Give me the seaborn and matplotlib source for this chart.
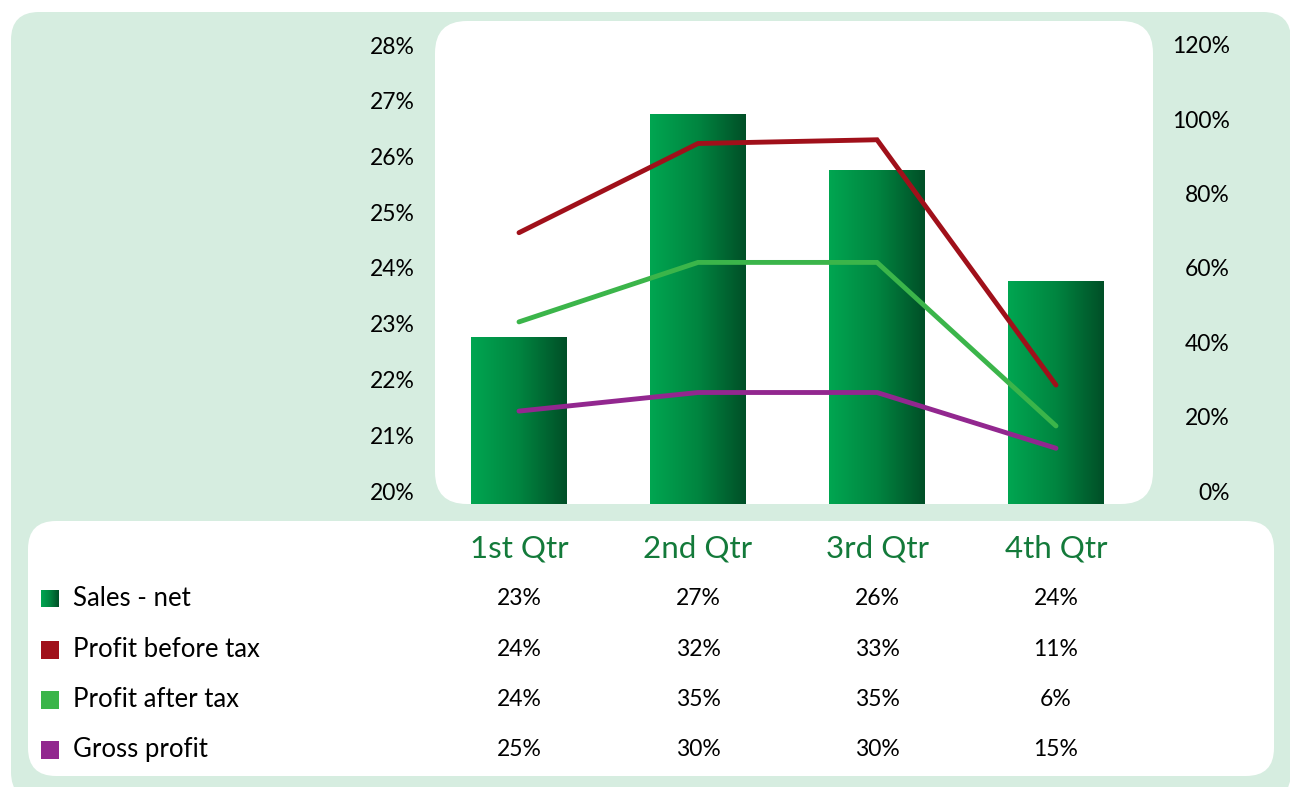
import numpy as np
import pandas as pd
import seaborn as sns
import matplotlib
matplotlib.use("Agg")
import matplotlib.pyplot as plt
from matplotlib.patches import FancyBboxPatch, Rectangle
from matplotlib.transforms import ScaledTranslation, IdentityTransform, blended_transform_factory
from matplotlib.colors import LinearSegmentedColormap

# ---- data -------------------------------------------------------------
quarters = ["1st Qtr", "2nd Qtr", "3rd Qtr", "4th Qtr"]
sales_net = [23, 27, 26, 24]
profit_before_tax = [24, 32, 33, 11]
profit_after_tax = [24, 35, 35, 6]
gross_profit = [25, 30, 30, 15]

series_names = ["Sales - net", "Profit before tax", "Profit after tax", "Gross profit"]
left_ticks = [20, 21, 22, 23, 24, 25, 26, 27, 28]
right_ticks = [0, 20, 40, 60, 80, 100, 120]

# ---- style ------------------------------------------------------------
W, H = 1290, 787
PANEL_GREEN = "#d6ede0"
BAR_LIGHT, BAR_DARK = "#00a651", "#004f27"
RED, GREEN, PURPLE = "#a0101a", "#3bb54a", "#92278f"
HEADER_GREEN = "#137a3a"

sns.set_theme(style="white")
plt.rcParams["font.family"] = ["Lato", "DejaVu Sans"]

fig = plt.figure(figsize=(W / 100, H / 100), dpi=100)
fig.patch.set_facecolor("white")


def box(x0, y0, x1, y1, r, color, z):
    """Rounded box given in pixels measured from the top-left corner."""
    p = FancyBboxPatch((x0, H - y1), x1 - x0, y1 - y0,
                       boxstyle=f"round,pad=0,rounding_size={r}",
                       transform=IdentityTransform(), facecolor=color,
                       edgecolor="none", zorder=z)
    fig.add_artist(p)


def fig_rect(x0, y0, x1, y1):
    return [x0 / W, 1 - y1 / H, (x1 - x0) / W, (y1 - y0) / H]


# background panels
box(11, 12, 1291, 800, 28, PANEL_GREEN, -3)
box(435, 21, 1153, 504, 32, "white", -2)
box(28, 521, 1274, 776, 28, "white", -2)

# ---- main chart -------------------------------------------------------
ax = fig.add_axes(fig_rect(429.5, 58, 1145.5, 504))
ax.patch.set_visible(False)

df = pd.DataFrame({"quarter": quarters, "sales": sales_net})
sns.barplot(data=df, x="quarter", y="sales", ax=ax, width=0.536,
            color=BAR_LIGHT, saturation=1)

grad = LinearSegmentedColormap.from_list("bar", [BAR_LIGHT, "#008540", BAR_DARK])
ramp = np.linspace(0, 1, 256).reshape(1, -1)
for bar in ax.patches:
    x, w, h = bar.get_x(), bar.get_width(), bar.get_height()
    img = ax.imshow(ramp, cmap=grad, extent=[x, x + w, left_ticks[0], h],
                    aspect="auto", interpolation="bicubic", zorder=2)
    img.set_clip_path(bar)
    bar.set_facecolor("none")
    bar.set_edgecolor("none")

ax.set_xlim(-0.5, 3.5)
ax.set_ylim(left_ticks[0], left_ticks[-1])
ax.set_yticks(left_ticks)
ax.set_yticklabels([f"{v}%" for v in left_ticks])
ax.set_xticks([])
ax.set_xlabel("")
ax.set_ylabel("")
for s in ax.spines.values():
    s.set_visible(False)
ax.tick_params(axis="y", length=0, pad=10.4, labelsize=16.5, labelcolor="black")

# stacked profit lines on the secondary axis
ax2 = ax.twinx()
ax2.patch.set_visible(False)
pos = np.arange(len(quarters))
level1 = np.array(gross_profit)
level2 = level1 + np.array(profit_after_tax)
level3 = level2 + np.array(profit_before_tax)
for vals, col in [(level1, PURPLE), (level2, GREEN), (level3, RED)]:
    sns.lineplot(x=pos, y=vals, ax=ax2, color=col, linewidth=3.5,
                 solid_capstyle="round", solid_joinstyle="miter", sort=False)
ax2.set_ylim(right_ticks[0], right_ticks[-1])
ax2.set_yticks(right_ticks)
ax2.set_yticklabels([f"{v}%" for v in right_ticks])
ax2.set_ylabel("")
for s in ax2.spines.values():
    s.set_visible(False)
ax2.tick_params(axis="y", length=0, pad=60.8, labelsize=16.5, labelcolor="black")

lift = ScaledTranslation(0, 13 / 100, fig.dpi_scale_trans)
for t in ax.yaxis.get_major_ticks():
    t.label1.set_transform(t.label1.get_transform() + lift)
for t in ax2.yaxis.get_major_ticks():
    t.label2.set_transform(t.label2.get_transform() + lift)
    t.label2.set_horizontalalignment("right")

# ---- data table -------------------------------------------------------
col_tf = blended_transform_factory(ax.transData, fig.transFigure)
header_y = 548
row_y = [598.5, 649.5, 699.5, 749.5]
rows = [sales_net, profit_before_tax, profit_after_tax, gross_profit]
row_colors = [None, RED, GREEN, PURPLE]

for i, q in enumerate(quarters):
    fig.text(pos[i], 1 - header_y / H, q, transform=col_tf, ha="center",
             va="center", fontsize=22.5, color=HEADER_GREEN)

for r, (name, vals, col) in enumerate(zip(series_names, rows, row_colors)):
    yc = row_y[r]
    if col is None:
        kax = fig.add_axes(fig_rect(41, yc - 9, 59, yc + 9))
        kax.imshow(ramp, cmap=grad, aspect="auto")
        kax.set_axis_off()
    else:
        fig.add_artist(Rectangle((41, H - yc - 9), 18, 18,
                                 transform=IdentityTransform(),
                                 facecolor=col, edgecolor="none"))
    fig.text(73 / W, 1 - yc / H, name, ha="left", va="center",
             fontsize=18.5, color="black")
    for i, v in enumerate(vals):
        fig.text(pos[i], 1 - yc / H, f"{v}%", transform=col_tf, ha="center",
                 va="center", fontsize=16.5, color="black")

fig.savefig("out.png", dpi=100)
